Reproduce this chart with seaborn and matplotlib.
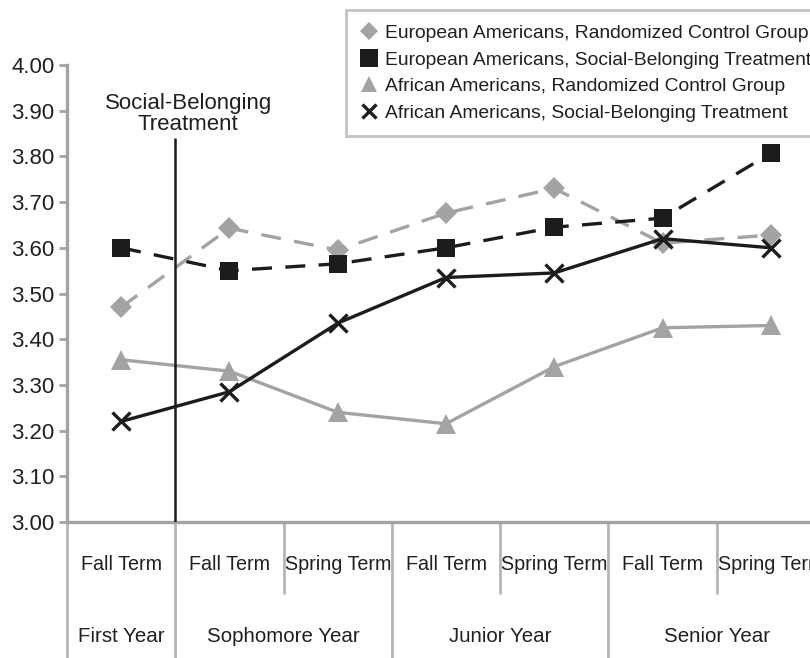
import numpy as np
import pandas as pd
import matplotlib
matplotlib.use("Agg")
import matplotlib.pyplot as plt
import seaborn as sns
from matplotlib.lines import Line2D

# ---------------- data ----------------
term_labels = ["Fall Term", "Fall Term", "Spring Term", "Fall Term",
               "Spring Term", "Fall Term", "Spring Term"]
year_labels = ["First Year", "Sophomore Year", "Junior Year", "Senior Year"]
year_spans = [1, 2, 2, 2]

series_names = ["European Americans, Randomized Control Group",
                "European Americans, Social-Belonging Treatment",
                "African Americans, Randomized Control Group",
                "African Americans, Social-Belonging Treatment"]
ea_control = [3.47, 3.643, 3.595, 3.676, 3.73, 3.61, 3.628]
ea_treatment = [3.60, 3.55, 3.565, 3.60, 3.645, 3.665, 3.807]
aa_control = [3.355, 3.33, 3.24, 3.215, 3.34, 3.425, 3.43]
aa_treatment = [3.22, 3.285, 3.435, 3.535, 3.545, 3.62, 3.60]
y_ticks = [3.00, 3.10, 3.20, 3.30, 3.40, 3.50, 3.60, 3.70, 3.80, 3.90, 4.00]

treatment_x = 0.5
treatment_top = 3.84
treatment_label = "Social-Belonging\nTreatment"

# ---------------- style ----------------
sns.set_style("white")
plt.rcParams["font.family"] = ["Liberation Sans", "DejaVu Sans"]

GRAY = "#a3a3a3"
LGRAY = "#b5b5b5"
BLACK = "#1e1b1c"
TXT = "#231f20"

fig = plt.figure(figsize=(8.10, 6.58), dpi=100)
ax = fig.add_axes([67 / 810, 136 / 658, (825 - 67) / 810, 457 / 658])

pos = np.arange(len(term_labels))
df = pd.DataFrame({
    "pos": np.tile(pos, 4),
    "gpa": ea_control + ea_treatment + aa_control + aa_treatment,
    "series": np.repeat(series_names, len(pos)),
})

specs = {
    series_names[0]: dict(color=GRAY, marker="D", markersize=11.5, dashes=(6, 4),
                          markeredgecolor=GRAY, markeredgewidth=0, zorder=3),
    series_names[2]: dict(color=GRAY, marker="^", markersize=14, dashes=(None, None),
                          markeredgecolor=GRAY, markeredgewidth=0, zorder=3),
    series_names[1]: dict(color=BLACK, marker="s", markersize=13.5, dashes=(6, 4),
                          markeredgecolor=BLACK, markeredgewidth=0, zorder=4),
    series_names[3]: dict(color=BLACK, marker="x", markersize=12.5, dashes=(None, None),
                          markeredgecolor=BLACK, markeredgewidth=2.4, zorder=5),
}

for name in [series_names[0], series_names[2], series_names[1], series_names[3]]:
    s = specs[name]
    sub = df[df["series"] == name]
    kw = dict(color=s["color"], marker=s["marker"], markersize=s["markersize"],
              markeredgecolor=s["markeredgecolor"], markeredgewidth=s["markeredgewidth"],
              linewidth=2.4, zorder=s["zorder"])
    if s["dashes"][0] is not None:
        kw["dashes"] = s["dashes"]
    sns.lineplot(data=sub, x="pos", y="gpa", ax=ax, legend=False, **kw)

# treatment line and label
ax.vlines(treatment_x, 3.0, treatment_top, color=BLACK, linewidth=1.8, zorder=6)
ax.text(0.62, 3.893, treatment_label, ha="center", va="center", fontsize=16,
        color=TXT, linespacing=0.98)

# axes
ax.set_xlim(-0.5, len(term_labels) - 0.5)
ax.set_ylim(3.0, 4.0)
ax.set_yticks(y_ticks)
ax.set_yticklabels([f"{v:.2f}" for v in y_ticks], fontsize=16, color=TXT)
ax.set_xticks([])
ax.set_xlabel("")
ax.set_ylabel("")
ax.tick_params(axis="y", direction="out", length=6, width=2, color=GRAY, pad=3, left=True)
for side in ["top", "right"]:
    ax.spines[side].set_visible(False)
for side in ["left", "bottom"]:
    ax.spines[side].set_color(GRAY)
    ax.spines[side].set_linewidth(2.4)

# two-level category axis
tr = ax.get_xaxis_transform()
long_bounds = [-0.5]
b = -0.5
for span in year_spans:
    b += span
    long_bounds.append(b)
short_bounds = [1.5, 3.5, 5.5]
for xb in long_bounds:
    ax.plot([xb, xb], [0, -0.30], transform=tr, color=LGRAY, linewidth=2, clip_on=False)
for xb in short_bounds:
    ax.plot([xb, xb], [0, -0.155], transform=tr, color=LGRAY, linewidth=2, clip_on=False)
for i, t in enumerate(term_labels):
    ax.text(i, -0.092, t, transform=tr, ha="center", va="center", fontsize=14.2, color=TXT)
start = -0.5
for y, span in zip(year_labels, year_spans):
    ax.text(start + span / 2, -0.25, y, transform=tr, ha="center", va="center",
            fontsize=14.8, color=TXT)
    start += span

# legend
handles = [
    Line2D([], [], linestyle="none", marker="D", markersize=9.5, color=GRAY, markeredgewidth=0),
    Line2D([], [], linestyle="none", marker="s", markersize=12.5, color=BLACK, markeredgewidth=0),
    Line2D([], [], linestyle="none", marker="^", markersize=12, color=GRAY, markeredgewidth=0),
    Line2D([], [], linestyle="none", marker="x", markersize=10.5, color=BLACK, markeredgewidth=2.4),
]
leg = fig.legend(handles, series_names, loc="upper left",
                 bbox_to_anchor=(346 / 810, 1 - 10 / 658), borderaxespad=0,
                 frameon=True, fancybox=False, fontsize=13.9, labelspacing=0.47,
                 handlelength=0.9, handletextpad=0.35, borderpad=0.75, labelcolor=TXT)
leg.get_frame().set_edgecolor(LGRAY)
leg.get_frame().set_linewidth(2)

fig.savefig("out.png", dpi=100)
